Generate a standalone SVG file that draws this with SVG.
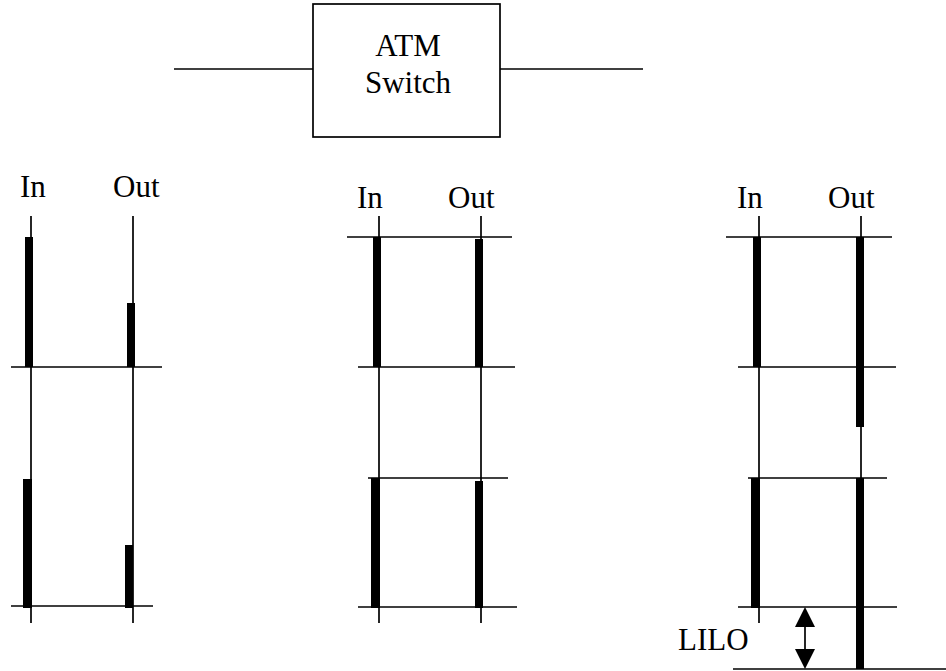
<svg xmlns="http://www.w3.org/2000/svg" width="946" height="671" viewBox="0 0 946 671">
<style>
text{font-family:'Liberation Serif','DejaVu Serif',serif;font-size:31px;fill:#000}
.l{stroke:#000;stroke-width:1.7;fill:none}
.b{fill:#000}
</style>
<rect width="946" height="671" fill="#fff"/>
<g id="switch">
<rect x="313" y="4" width="187" height="133" class="l"/>
<text x="408" y="56" text-anchor="middle" font-family="Liberation Serif, serif">ATM</text>
<text x="408" y="93" text-anchor="middle" font-family="Liberation Serif, serif">Switch</text>
</g>
<g id="connectors">
<line class="l" x1="174" y1="69" x2="313" y2="69"/>
<line class="l" x1="500" y1="69" x2="643" y2="69"/>
</g>
<g id="panel1">
<text x="20" y="197" font-family="Liberation Serif, serif">In</text>
<text x="113" y="197" font-family="Liberation Serif, serif">Out</text>
<line class="l" x1="31" y1="216" x2="31" y2="623"/>
<line class="l" x1="133" y1="216" x2="133" y2="623"/>
<line class="l" x1="11" y1="367" x2="162" y2="367"/>
<line class="l" x1="11" y1="606" x2="153" y2="606"/>
<rect class="b" x="25" y="237" width="8" height="130"/>
<rect class="b" x="127" y="303" width="8" height="64"/>
<rect class="b" x="23" y="479" width="9" height="129"/>
<rect class="b" x="125" y="545" width="8" height="63"/>
</g>
<g id="panel2">
<text x="357" y="208" font-family="Liberation Serif, serif">In</text>
<text x="448" y="208" font-family="Liberation Serif, serif">Out</text>
<line class="l" x1="379" y1="216" x2="379" y2="623"/>
<line class="l" x1="481" y1="216" x2="481" y2="623"/>
<line class="l" x1="347" y1="237" x2="512" y2="237"/>
<line class="l" x1="358" y1="367" x2="515" y2="367"/>
<line class="l" x1="368" y1="478" x2="508" y2="478"/>
<line class="l" x1="358" y1="607" x2="517" y2="607"/>
<rect class="b" x="373" y="237" width="8" height="130"/>
<rect class="b" x="475" y="239" width="8" height="128"/>
<rect class="b" x="371" y="478" width="9" height="130"/>
<rect class="b" x="475" y="481" width="8" height="127"/>
</g>
<g id="panel3">
<text x="737" y="208" font-family="Liberation Serif, serif">In</text>
<text x="828" y="208" font-family="Liberation Serif, serif">Out</text>
<line class="l" x1="759" y1="216" x2="759" y2="623"/>
<line class="l" x1="861" y1="216" x2="861" y2="669"/>
<line class="l" x1="726" y1="237" x2="892" y2="237"/>
<line class="l" x1="738" y1="367" x2="896" y2="367"/>
<line class="l" x1="748" y1="478" x2="887" y2="478"/>
<line class="l" x1="738" y1="607" x2="897" y2="607"/>
<line class="l" x1="733" y1="669" x2="946" y2="669"/>
<rect class="b" x="753" y="237" width="8" height="130"/>
<rect class="b" x="856" y="237" width="8" height="190"/>
<rect class="b" x="751" y="478" width="9" height="130"/>
<rect class="b" x="856" y="478" width="8" height="191"/>
</g>
<g id="lilo">
<line class="l" x1="805" y1="627" x2="805" y2="649"/>
<path class="b" d="M805,607 L815,627 L795,627 Z"/>
<path class="b" d="M805,669 L815,649 L795,649 Z"/>
<text x="678" y="650" font-family="Liberation Serif, serif">LILO</text>
</g>
</svg>
